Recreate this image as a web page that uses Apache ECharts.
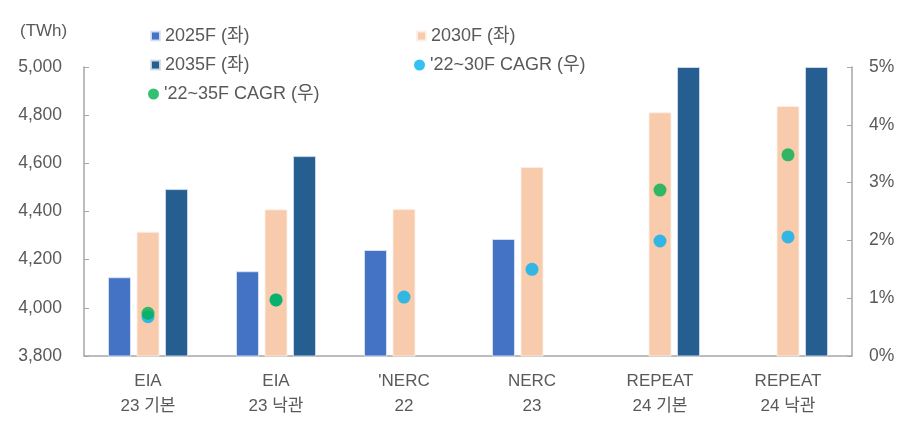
<!DOCTYPE html>
<html><head><meta charset="utf-8">
<script src="https://cdn.jsdelivr.net/npm/echarts@6/dist/echarts.min.js"></script>
<style>html,body{margin:0;padding:0;background:#fff}#c{width:907px;height:428px}</style>
</head><body><div id="c"></div>
<script>
const categories = ['EIA\n23 기본','EIA\n23 낙관',"'NERC\n22",'NERC\n23','REPEAT\n24 기본','REPEAT\n24 낙관'];
const s2025 = [4127, 4152, 4240, 4286, null, null];
const s2030 = [4316, 4409, 4410, 4585, 4812, 4838];
const s2035 = [4493, 4630, null, null, 5000, 5000];
const cagr30 = [0.68, 0.97, 1.02, 1.50, 1.99, 2.06];
const cagr35 = [0.74, 0.97, null, null, 2.87, 3.48];
const leftTicks = {min: 3800, max: 5000, interval: 200};
const rightTicks = {min: 0, max: 5, interval: 1};

const FONT = '"Liberation Sans","Noto Sans CJK KR",sans-serif';
const TXT = '#595959';
const AX = '#a6a6a6';
const chart = echarts.init(document.getElementById('c'));
const legText = {color: TXT, fontSize: 18, fontFamily: FONT};
function leg(name, icon, left, top, w, h) {
  return {data: [name], left: left, top: top, icon: icon, itemWidth: w, itemHeight: h,
          itemGap: 0, textStyle: legText, padding: 0, selectedMode: false};
}
chart.setOption({
  animation: false,
  textStyle: {fontFamily: FONT},
  legend: [
    leg('2025F (좌)', 'rect', 150, 27, 9, 9),
    leg('2030F (좌)', 'rect', 416, 27, 9, 9),
    leg('2035F (좌)', 'rect', 150, 56, 9, 9),
    leg("'22~30F CAGR (우)", 'circle', 414, 56, 11, 11),
    leg("'22~35F CAGR (우)", 'circle', 148, 85, 11, 11)
  ],
  graphic: [{type: 'text', left: 20, top: 23, style: {text: '(TWh)', fill: TXT, font: '17px ' + FONT}}],
  grid: {left: 84, right: 55, top: 67, bottom: 72},
  xAxis: {
    type: 'category', data: categories,
    axisLine: {lineStyle: {color: AX, width: 1.5}},
    axisTick: {inside: true, length: 5, lineStyle: {color: AX}},
    axisLabel: {color: TXT, fontSize: 17, lineHeight: 25, margin: 13, fontFamily: FONT}
  },
  yAxis: [
    {type: 'value', min: leftTicks.min, max: leftTicks.max, interval: leftTicks.interval,
     axisLine: {show: true, lineStyle: {color: AX, width: 1.5}},
     axisTick: {show: true, inside: true, length: 5, lineStyle: {color: AX}},
     splitLine: {show: false},
     axisLabel: {color: TXT, fontSize: 17.5, margin: 22, fontFamily: FONT,
       formatter: v => v.toLocaleString('en-US')}},
    {type: 'value', min: rightTicks.min, max: rightTicks.max, interval: rightTicks.interval,
     position: 'right',
     axisLine: {show: true, lineStyle: {color: AX, width: 1.5}},
     axisTick: {show: true, inside: true, length: 5, lineStyle: {color: AX}},
     splitLine: {show: false},
     axisLabel: {color: TXT, fontSize: 17.5, margin: 17, fontFamily: FONT, formatter: v => v + '%'}}
  ],
  series: [
    {name: '2025F (좌)', type: 'bar', data: s2025, barWidth: 23, barGap: '24%',
     itemStyle: {color: '#4472C4', borderColor: 'rgba(220,228,245,0.9)', borderWidth: 1}},
    {name: '2030F (좌)', type: 'bar', data: s2030, barWidth: 23, barGap: '24%',
     itemStyle: {color: '#F8CBAD', borderColor: 'rgba(253,240,232,0.9)', borderWidth: 1}},
    {name: '2035F (좌)', type: 'bar', data: s2035, barWidth: 23, barGap: '24%',
     itemStyle: {color: '#255E91', borderColor: 'rgba(210,222,235,0.9)', borderWidth: 1}},
    {name: "'22~30F CAGR (우)", type: 'scatter', yAxisIndex: 1, data: cagr30, symbolSize: 13,
     itemStyle: {color: '#00B0F0'}, z: 5},
    {name: "'22~35F CAGR (우)", type: 'scatter', yAxisIndex: 1, data: cagr35, symbolSize: 13,
     itemStyle: {color: '#00B050'}, z: 6}
  ]
});
</script></body></html>
